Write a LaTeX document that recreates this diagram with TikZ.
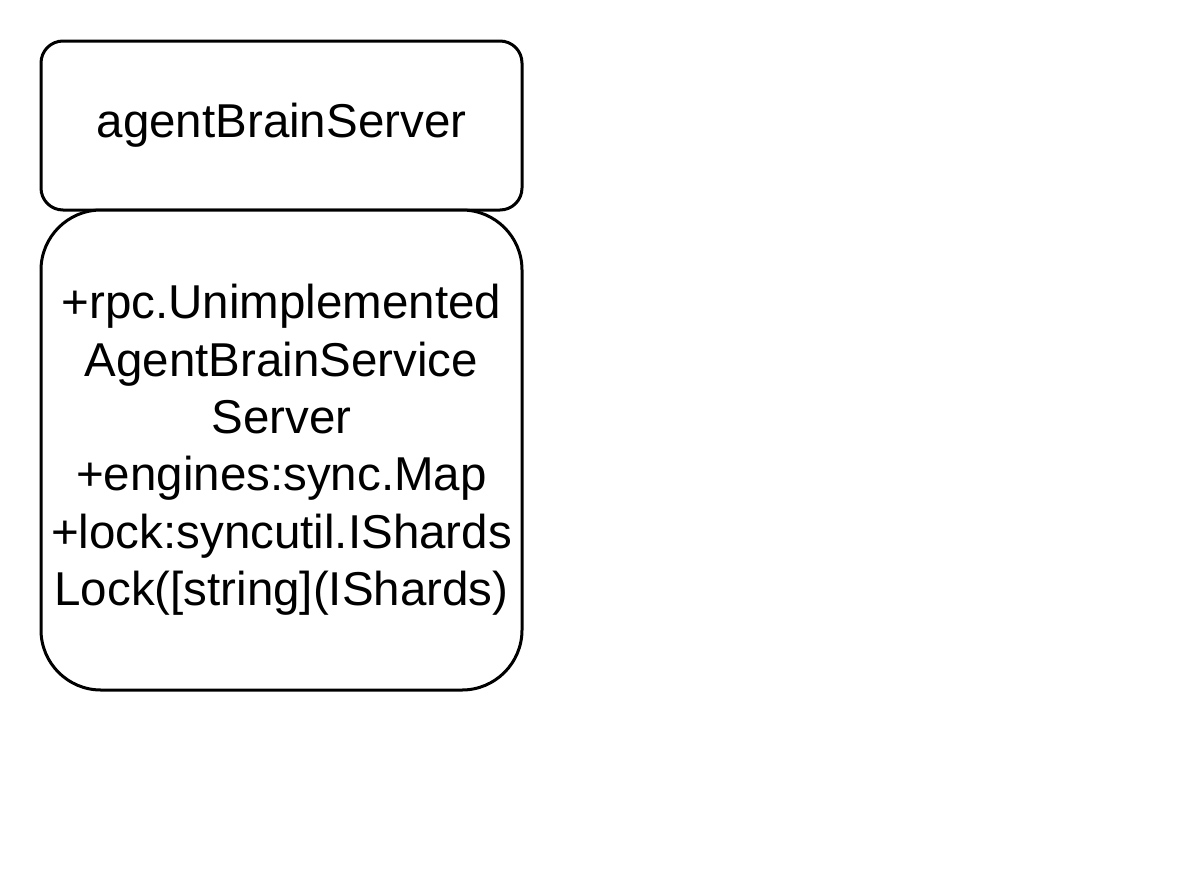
\documentclass[tikz,border=0pt]{standalone}
\usepackage{fontspec}
\setmainfont{Liberation Sans}
\begin{document}
\begin{tikzpicture}[x=1pt,y=-1pt,
  box/.style={draw, line width=3pt, fill=white, align=center, outer sep=0pt,
    font=\fontsize{47.5}{57.4}\selectfont, inner sep=0pt, minimum width=481pt}]
\useasboundingbox (0,0) rectangle (1196,876);
\node[box, rounded corners=22pt, minimum height=169pt] (head) at (281.5,125.5) {agentBrainServer};
\node[box, rounded corners=60pt, minimum height=480pt, anchor=north] (body) at (head.south)
  {+rpc.Unimplemented\\AgentBrainService\\Server\\+engines:sync.Map\\+lock:syncutil.IShards\\Lock([string](IShards)};
\end{tikzpicture}
\end{document}
